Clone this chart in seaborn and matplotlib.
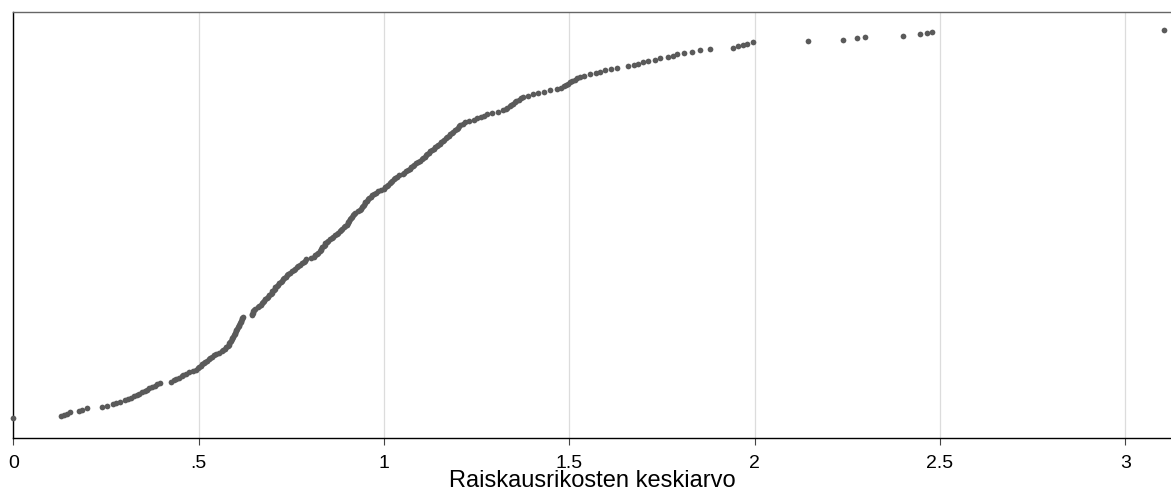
import numpy as np
import pandas as pd
import matplotlib
matplotlib.use("Agg")
import matplotlib.pyplot as plt
import seaborn as sns

# keskiarvot luettu kuvasta, järjestyksessä pienimmästä suurimpaan
keskiarvo = [
    0.000, 0.129, 0.137, 0.145, 0.154, 0.177, 0.185, 0.199, 0.239, 0.253,
    0.269, 0.277, 0.288, 0.301, 0.309, 0.318, 0.326, 0.334, 0.340, 0.347,
    0.354, 0.361, 0.367, 0.374, 0.381, 0.388, 0.396, 0.425, 0.434, 0.440,
    0.447, 0.454, 0.459, 0.466, 0.473, 0.485, 0.494, 0.498, 0.502, 0.506,
    0.510, 0.514, 0.518, 0.523, 0.527, 0.531, 0.536, 0.541, 0.548, 0.555,
    0.562, 0.567, 0.571, 0.575, 0.578, 0.581, 0.583, 0.585, 0.587, 0.589,
    0.591, 0.593, 0.595, 0.597, 0.599, 0.600, 0.602, 0.604, 0.606, 0.608,
    0.609, 0.611, 0.613, 0.614, 0.616, 0.617, 0.619, 0.643, 0.644, 0.646,
    0.647, 0.649, 0.652, 0.659, 0.663, 0.667, 0.671, 0.674, 0.677, 0.680,
    0.684, 0.687, 0.690, 0.694, 0.697, 0.699, 0.702, 0.705, 0.707, 0.711,
    0.714, 0.717, 0.721, 0.724, 0.728, 0.731, 0.735, 0.738, 0.742, 0.747,
    0.752, 0.756, 0.760, 0.764, 0.769, 0.774, 0.780, 0.784, 0.787, 0.790,
    0.803, 0.811, 0.815, 0.819, 0.823, 0.826, 0.829, 0.831, 0.834, 0.837,
    0.840, 0.842, 0.846, 0.850, 0.854, 0.859, 0.863, 0.868, 0.872, 0.877,
    0.881, 0.885, 0.888, 0.892, 0.895, 0.899, 0.902, 0.904, 0.906, 0.909,
    0.911, 0.913, 0.916, 0.919, 0.922, 0.929, 0.935, 0.938, 0.941, 0.943,
    0.946, 0.948, 0.950, 0.953, 0.956, 0.960, 0.964, 0.968, 0.973, 0.978,
    0.985, 0.992, 0.999, 1.004, 1.008, 1.012, 1.015, 1.018, 1.022, 1.026,
    1.031, 1.034, 1.041, 1.050, 1.055, 1.060, 1.065, 1.069, 1.073, 1.078,
    1.082, 1.087, 1.092, 1.097, 1.102, 1.106, 1.110, 1.113, 1.117, 1.121,
    1.125, 1.130, 1.134, 1.138, 1.142, 1.146, 1.150, 1.154, 1.158, 1.162,
    1.166, 1.170, 1.174, 1.178, 1.183, 1.187, 1.192, 1.196, 1.199, 1.202,
    1.206, 1.212, 1.219, 1.229, 1.243, 1.252, 1.262, 1.270, 1.279, 1.291,
    1.308, 1.322, 1.328, 1.333, 1.339, 1.343, 1.348, 1.353, 1.357, 1.363,
    1.370, 1.376, 1.388, 1.403, 1.416, 1.432, 1.448, 1.467, 1.478, 1.486,
    1.491, 1.497, 1.502, 1.507, 1.514, 1.521, 1.529, 1.540, 1.556, 1.572,
    1.583, 1.596, 1.612, 1.629, 1.658, 1.674, 1.686, 1.700, 1.713, 1.731,
    1.745, 1.766, 1.780, 1.790, 1.809, 1.830, 1.852, 1.879, 1.942, 1.955,
    1.969, 1.979, 1.995, 2.144, 2.238, 2.276, 2.298, 2.400, 2.446, 2.465,
    2.478, 3.104,
]
tick_vals = [0, 0.5, 1, 1.5, 2, 2.5, 3]
tick_labels = ["0", ".5", "1", "1.5", "2", "2.5", "3"]
x_label = "Raiskausrikosten keskiarvo"

df = pd.DataFrame({"keskiarvo": keskiarvo})
df["jarjestys"] = df["keskiarvo"].rank(method="first")

sns.set_style("white")
plt.rcParams["font.family"] = ["Liberation Sans", "DejaVu Sans"]

fig = plt.figure(figsize=(11.71, 4.94), dpi=100)
ax = fig.add_axes([0.01136, 0.1134, 1.0 - 0.01136, 0.8629])

# pystysuuntainen ruudukko
for t in tick_vals:
    ax.axvline(t, color="#dcdcdc", lw=0.9, zorder=0)

sns.scatterplot(data=df, x="keskiarvo", y="jarjestys", ax=ax,
                color="#5a5a5a", s=17, linewidth=0, zorder=3, clip_on=False)

ax.set_xlim(0, 3.123)
ax.set_ylim(-14.2, 306)
ax.set_xticks(tick_vals)
ax.set_xticklabels(tick_labels)
ax.set_yticks([])
ax.set_ylabel("")
ax.set_xlabel(x_label, fontsize=17, labelpad=-1, color="black")
ax.tick_params(axis="x", length=5, width=0.8, color="#444444",
               labelsize=14, labelcolor="black", pad=7, direction="out",
               bottom=True)

ax.spines["left"].set_color("black")
ax.spines["left"].set_linewidth(1.0)
ax.spines["bottom"].set_color("black")
ax.spines["bottom"].set_linewidth(1.0)
ax.spines["top"].set_color("#666666")
ax.spines["top"].set_linewidth(1.0)
ax.spines["right"].set_visible(False)

fig.savefig("out.png", dpi=100)
